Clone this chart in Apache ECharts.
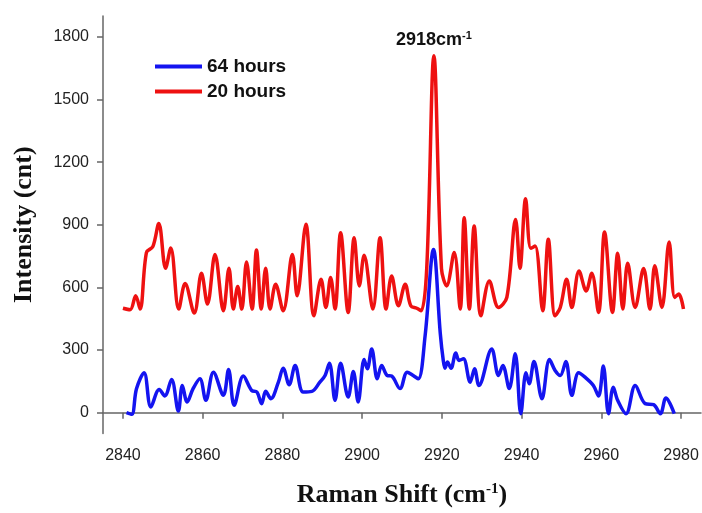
<!DOCTYPE html>
<html>
<head>
<meta charset="utf-8">
<script src="https://cdn.jsdelivr.net/npm/echarts@6/dist/echarts.min.js"></script>
<style>html,body{margin:0;padding:0;background:#fff}#c{width:702px;height:513px}</style>
</head>
<body>
<div id="c"></div>
<script>
// Raman shift (cm-1) and intensity, 20 hours
const red20x = [2840,2841.8,2843.2,2844.3,2845.9,2847.5,2849.0,2850.7,2852.0,2854.0,2855.6,2857.9,2859.7,2861.2,2863.1,2865.2,2866.6,2867.7,2868.8,2869.8,2871.0,2872.4,2873.5,2874.7,2875.8,2876.9,2878.3,2880.2,2882.5,2883.7,2885.9,2887.9,2889.7,2890.9,2892.1,2893.2,2894.6,2896.5,2898.0,2899.3,2900.5,2902.7,2904.5,2906.0,2907.4,2909.1,2910.8,2912.2,2913.7,2914.8,2916.2,2918.0,2919.9,2921.2,2923.1,2924.6,2925.6,2926.9,2928.1,2929.8,2931.9,2934.2,2936.3,2938.5,2939.6,2941.0,2942.3,2943.4,2945.3,2946.7,2948.4,2949.7,2951.3,2952.6,2954.4,2956.2,2957.6,2959.3,2960.8,2962.8,2964.1,2965.4,2966.6,2968.5,2970.6,2972.2,2973.4,2975.2,2977.0,2978.4,2979.4,2980.6];
const red20y = [500,493,560,496,767,795,906,692,789,496,619,477,668,520,758,488,692,496,604,496,722,496,779,496,692,496,615,488,758,560,902,464,639,504,647,496,862,480,838,607,754,496,838,496,655,512,615,512,500,488,690,1710,690,607,767,496,934,496,894,464,631,504,552,925,692,1024,787,798,488,830,464,504,639,504,679,583,668,480,865,480,763,496,716,504,690,496,703,504,817,552,568,496];
// 64 hours
const blue64x = [2840.9,2842.2,2843.4,2845.3,2847.0,2849.1,2850.5,2852.2,2853.9,2854.9,2856.1,2857.6,2859.3,2860.8,2862.7,2865.2,2866.5,2867.9,2870.2,2872.3,2873.6,2874.8,2875.8,2877.1,2879.0,2880.2,2881.7,2883.2,2885.2,2887.4,2889.4,2890.7,2891.8,2893.2,2894.6,2896.5,2897.8,2899.0,2900.5,2901.3,2902.4,2903.8,2904.9,2906.3,2907.4,2909.5,2911.3,2912.8,2914.1,2915.8,2917.9,2919.6,2920.3,2920.8,2921.4,2922.3,2923.5,2924.3,2925.4,2927.1,2928.2,2929.3,2932.5,2934.2,2935.3,2936.9,2938.4,2939.8,2941.1,2941.9,2943.1,2945.1,2947.0,2948.4,2949.7,2951.1,2952.6,2954.3,2955.9,2958.0,2959.3,2960.5,2961.8,2963.0,2964.1,2966.2,2968.5,2971.0,2973.1,2974.8,2976.2,2978.3];
const blue64y = [0,-8,114,191,27,111,80,159,8,130,51,115,162,59,194,83,207,35,175,106,99,43,102,67,146,213,134,226,99,102,146,178,237,59,237,75,197,51,254,210,305,162,226,178,175,115,194,178,162,369,782,380,258,213,242,213,286,250,258,146,210,130,305,178,226,115,282,-5,191,138,245,67,254,202,178,245,83,191,170,130,80,223,-5,122,59,-5,130,43,38,-5,70,-5];
const xTicks = [2840,2860,2880,2900,2920,2940,2960,2980];
const yTicks = [0,300,600,900,1200,1500,1800];
const peakLabel = {x: 2918, y: 1710, text: '2918', unit: 'cm', sup: '-1'};

const zip = (xs, ys) => xs.map((x, i) => [x, ys[i]]);
const chart = echarts.init(document.getElementById('c'));
const axisFont = 'Liberation Sans, Arial, sans-serif';
const titleFont = 'Liberation Serif, Times New Roman, serif';
const plain = v => String(v);
chart.setOption({
  animation: false,
  grid: {left: 103, right: 1, top: 16, bottom: 78},
  legend: {
    orient: 'vertical', left: 150, top: 52, icon: 'rect', itemWidth: 47, itemHeight: 4, itemGap: 6,
    data: ['64 hours', '20 hours'],
    textStyle: {fontFamily: axisFont, fontWeight: 'bold', fontSize: 19, color: '#111'}
  },
  xAxis: {
    type: 'value', min: 2835, max: 2985,
    name: '{t|Raman Shift (cm}{s|-1}{t|)}', nameLocation: 'middle', nameGap: 48,
    nameTextStyle: {rich: {
      t: {fontFamily: titleFont, fontWeight: 'bold', fontSize: 26, color: '#111'},
      s: {fontFamily: titleFont, fontWeight: 'bold', fontSize: 15, color: '#111', verticalAlign: 'top', padding: [0,0,12,0]}
    }},
    splitLine: {show: false},
    axisLine: {lineStyle: {color: '#666', width: 1.5}},
    axisTick: {show: true, length: 6, lineStyle: {color: '#666', width: 1.5}, customValues: xTicks},
    axisLabel: {customValues: xTicks, formatter: plain, margin: 14, fontFamily: axisFont, fontSize: 16, color: '#222'}
  },
  yAxis: {
    type: 'value', min: -100, max: 1900,
    name: 'Intensity (cnt)', nameLocation: 'middle', nameGap: 66,
    nameTextStyle: {fontFamily: titleFont, fontWeight: 'bold', fontSize: 26, color: '#111'},
    splitLine: {show: false},
    axisLine: {show: true, lineStyle: {color: '#666', width: 1.5}},
    axisTick: {show: true, length: 6, lineStyle: {color: '#666', width: 1.5}, customValues: yTicks},
    axisLabel: {customValues: yTicks, formatter: plain, margin: 14, fontFamily: axisFont, fontSize: 16, color: '#222'}
  },
  series: [
    {
      name: '64 hours', type: 'line', data: zip(blue64x, blue64y), smooth: 0.35, showSymbol: false,
      lineStyle: {color: '#1414f0', width: 3.5}, itemStyle: {color: '#1414f0'}
    },
    {
      name: '20 hours', type: 'line', data: zip(red20x, red20y), smooth: 0.35, showSymbol: false,
      lineStyle: {color: '#ee1111', width: 3.5}, itemStyle: {color: '#ee1111'},
      markPoint: {
        symbol: 'circle', symbolSize: 0,
        data: [{coord: [peakLabel.x, peakLabel.y]}],
        label: {
          show: true, position: 'top', distance: 6,
          formatter: '{a|' + peakLabel.text + peakLabel.unit + '}{b|' + peakLabel.sup + '}',
          rich: {
            a: {fontFamily: axisFont, fontWeight: 'bold', fontSize: 18, color: '#111'},
            b: {fontFamily: axisFont, fontWeight: 'bold', fontSize: 11, color: '#111', verticalAlign: 'top', padding: [0,0,8,0]}
          }
        }
      }
    }
  ]
});
</script>
</body>
</html>
